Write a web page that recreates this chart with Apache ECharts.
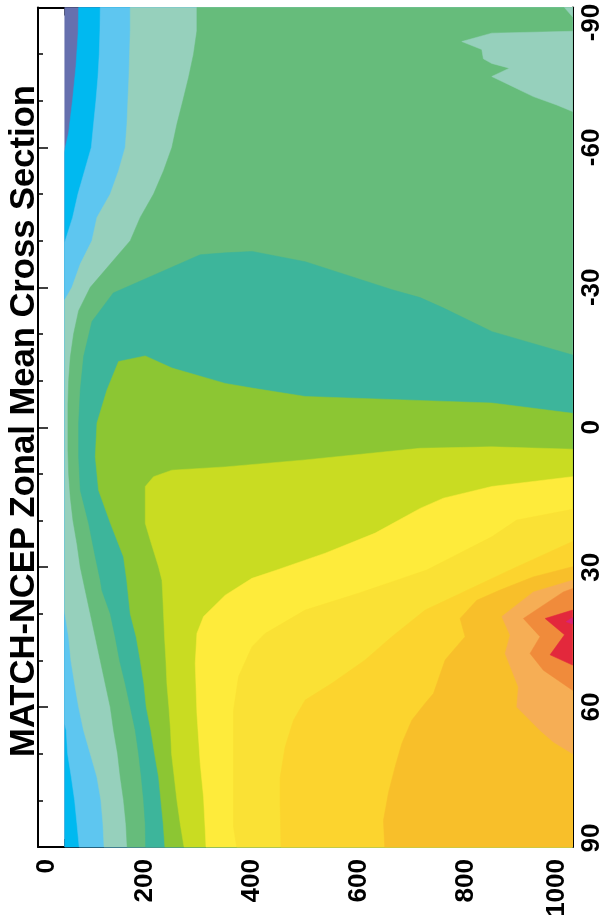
<!DOCTYPE html>
<html>
<head>
<meta charset="utf-8">
<script src="https://cdn.jsdelivr.net/npm/echarts@6/dist/echarts.min.js"></script>
<style>
  html, body { margin: 0; padding: 0; background: #fff; }
  #chart { width: 601px; height: 920px; }
</style>
</head>
<body>
<div id="chart"></div>
<script>
// pressure (hPa) along x, latitude along y; each area = region at or above a contour level
const pressureTicks = [0, 200, 400, 600, 800, 1000];
const latitudeTicks = [-90, -60, -30, 0, 30, 60, 90];

const purpleArea = [[50,-90],[1000,-90],[1000,90],[50,90]];
const blueArea = [[76,-90],[75,-84.5],[71,-77.4],[64.7,-70.2],[57.2,-63.1],[51,-60],[50,-59],[50,90],[1000,90],[1000,-90]];
const lightBlueArea = [[116.5,-90],[115.9,-85],[114.6,-80],[112.1,-75],[108.4,-70],[104,-65],[99.7,-60],[87.2,-55],[74.7,-50],[64.8,-45],[51,-40],[50,-39.5],[50,63.5],[52.9,65],[55.4,70],[62.3,75],[68.5,80],[72.9,85],[77,90],[1000,90],[1000,-90]];
const paleTealArea = [[172.6,-90],[172.6,-85],[171.3,-80],[170.1,-75],[168.2,-70],[166.4,-65],[163.2,-60],[150.8,-55],[135.2,-50],[110.3,-45],[100.9,-40],[79.1,-35],[63.5,-30],[50,-27.3],[50,39.2],[50.4,40],[57.3,45],[61.6,50],[68.5,55],[76,60],[85.3,65],[97.8,70],[110.3,75],[117.7,80],[121.5,85],[123.6,90],[1000,90],[1000,-90]];
const greenArea = [[297.3,-90],[297.3,-85],[291,-80],[281.7,-75],[271,-70],[259.9,-65],[250.5,-60],[234.9,-55],[216.2,-50],[191.3,-45],[172.6,-40],[135.2,-35],[97.8,-30],[76,-25],[66.6,-20],[60.4,-15],[57.3,-10],[56,-5],[56,0],[56,5],[57.3,10],[60.4,15],[65.4,20],[72.9,25],[79.1,30],[88.4,35],[97.8,40],[107.2,45],[116.5,50],[125.8,55],[135.2,60],[141.4,65],[148.9,70],[153.9,75],[160.1,80],[164.5,85],[166.8,90],[1000,90],[1000,-90]];
const paleTealBlob = [[792.9,-82.7],[849,-84.5],[1000,-84.9],[1000,-67.7],[970.5,-69.1],[926.8,-70.9],[880,-73.5],[849,-75.2],[881.9,-77],[849,-78],[833.3,-79],[830.3,-81]];
const paleTealCorner = [[985,-90],[1000,-90],[1000,-88]];
const tealArea = [[1000,-15.5],[849.6,-20.5],[757.9,-25.6],[714.9,-27.8],[662.5,-29.5],[499.9,-35.5],[400.7,-37.7],[350.3,-37.4],[303.5,-37],[140.8,-28.8],[101,-22.7],[85.4,-15.2],[79.1,-8],[76,-0.9],[76,6.3],[79.1,13.5],[94.7,20.6],[107.2,27.8],[116.5,32.8],[119.6,35],[135.2,40],[144.5,45],[152.6,50],[163.2,55],[172.6,60],[182,65],[188.2,70],[193.2,75],[197.5,80],[200.6,85],[201.4,90],[1000,90]];
const yellowGreenArea = [[1000,-3],[849,-5.2],[724.3,-5.7],[499.9,-6.6],[400.2,-8.4],[350.3,-9.4],[250.6,-12.7],[200.7,-15.3],[150.7,-14.1],[129,-8],[110.3,-0.9],[107.2,6.3],[113.3,13.5],[135.2,20.5],[160,27.8],[166,32.8],[172.6,40],[183.8,45],[191.3,50],[198.1,55],[202.5,60],[211.2,65],[218.1,70],[225.6,75],[229.9,80],[234.3,85],[237.3,90],[1000,90]];
const limeArea = [[1000,4.7],[849,4.2],[714.9,4.5],[499.9,7],[350.3,8.5],[250.6,9.2],[216.2,10.6],[200.7,12.7],[200.7,20.6],[210,24.2],[225.5,29.9],[231.9,32.8],[233,35],[234.9,40],[236.8,45],[239.3,50],[241.2,55],[244.9,60],[248,65],[249.9,70],[254.9,75],[259.9,80],[266.1,85],[273.2,90],[1000,90]];
const yellowArea = [[1000,10.6],[849,12.7],[758.5,15.2],[714.9,17.4],[630.8,22.7],[537.3,27],[446.9,30.6],[400.2,32.4],[350.3,36],[309.7,40.6],[297.3,44.2],[294.2,50.6],[297.3,61.3],[303.5,72.1],[309.7,79.3],[312.9,86.4],[314.3,90],[1000,90]];
const lightGoldArea = [[1000,17.6],[895.7,19.9],[849,23.5],[727.4,30.6],[599.5,35.6],[499.9,39.2],[425,44.2],[400.2,47.1],[375.1,53.5],[365.8,60.7],[365.8,71.4],[365.8,85.7],[371.7,90],[1000,90]];
const goldArea = [[1000,24.5],[883.2,30.6],[724.3,39.2],[662,44.9],[612,49.9],[549.8,54.9],[499.9,58.5],[478,62.8],[462.4,68.5],[453.1,75],[453.1,81.4],[454.6,90],[1000,90]];
const deepGoldArea = [[1000,29.9],[926.2,32.1],[864.5,34.9],[820.9,37.1],[789.7,41],[799,44.9],[777.2,47.8],[761.7,49.9],[739.8,57.1],[724.3,59.2],[699.4,62.8],[680.7,67.8],[668.2,72.8],[655.6,78.4],[646.3,84.3],[648.7,90],[1000,90]];
const peachArea = [[1000,32.8],[926.8,35.3],[867.7,40.6],[883.2,44.6],[873.9,48.5],[898.7,55.7],[895.7,60],[939.3,65],[964.2,67.5],[1000,70]];
const orangeArea = [[1000,34.6],[982.9,35.3],[908.1,41],[939.3,44.9],[920.6,48.5],[945.5,52.1],[1000,56.4]];
const redArea = [[1000,39.2],[948.7,41],[985,44.5],[958,48.8],[1000,51]];
const magentaArea = [[1000,40.8],[988,41.7],[1000,42.2]];

// painted in this order, lowest level first
const areas = [
  [purpleArea, '#6670ae'],
  [blueArea, '#00b9f0'],
  [lightBlueArea, '#5ec6f0'],
  [paleTealArea, '#96d0bc'],
  [greenArea, '#66bc7b'],
  [paleTealBlob, '#96d0bc'],
  [paleTealCorner, '#96d0bc'],
  [tealArea, '#3db59b'],
  [yellowGreenArea, '#8cc633'],
  [limeArea, '#c9dc22'],
  [yellowArea, '#feeb3b'],
  [lightGoldArea, '#fae135'],
  [goldArea, '#fcd42e'],
  [deepGoldArea, '#f8bf2a'],
  [peachArea, '#f6ae55'],
  [orangeArea, '#f08b3b'],
  [redArea, '#e3283c'],
  [magentaArea, '#d8237a']
];

const labelFont = { fontFamily: '"Liberation Sans", Arial, sans-serif', fontWeight: 'bold', fontSize: 26, color: '#000' };

const myChart = echarts.init(document.getElementById('chart'), null, { renderer: 'canvas' });

function axisX(pos, showLabel) {
  return {
    type: 'value', position: pos, min: 0, max: 1000, interval: 200,
    axisLine: { show: true, onZero: false, lineStyle: { color: '#000', width: 2 } },
    axisTick: { show: true, inside: true, length: 16, lineStyle: { color: '#000', width: 1.5 } },
    minorTick: { show: true, splitNumber: 4, length: 8, lineStyle: { color: '#000', width: 1.5 } },
    splitLine: { show: false },
    axisLabel: {
      show: showLabel, rotate: 90, margin: 12, ...labelFont,
      formatter: function (v) {
        if (v === 0) return '{lo|0}';
        if (v === 1000) return '{hi|1000}';
        return String(v);
      },
      rich: {
        lo: { ...labelFont, padding: [18, 0, 0, 0] },
        hi: { ...labelFont, padding: [0, 0, 32, 0] }
      }
    }
  };
}

function axisY(pos, showLabel) {
  return {
    type: 'value', position: pos, min: -90, max: 90, interval: 30, inverse: true,
    axisLine: { show: true, onZero: false, lineStyle: { color: '#000', width: 2 } },
    axisTick: { show: true, inside: true, length: 10, lineStyle: { color: '#000', width: 1.5 } },
    minorTick: { show: true, splitNumber: 3, length: 5, lineStyle: { color: '#000', width: 1.5 } },
    splitLine: { show: false },
    axisLabel: {
      show: showLabel, rotate: 90, margin: 6, ...labelFont,
      formatter: function (v) {
        if (v === -90) return '{lo|-90}';
        if (v === 90) return '{hi|90}';
        return String(v);
      },
      rich: {
        lo: { ...labelFont, padding: [0, 30, 0, 0] },
        hi: { ...labelFont, padding: [0, 0, 0, 18] }
      }
    }
  };
}

const option = {
  animation: false,
  grid: { left: 38, right: 28.5, top: 7.5, bottom: 73, containLabel: false, outerBoundsMode: 'none' },
  xAxis: [axisX('bottom', true), axisX('top', false)],
  yAxis: [axisY('right', true), axisY('left', false)],
  graphic: [{
    type: 'text', x: 24, y: 421, rotation: Math.PI / 2,
    style: {
      text: 'MATCH-NCEP Zonal Mean Cross Section',
      font: 'bold 34.6px "Liberation Sans", Arial, sans-serif',
      fill: '#000', align: 'center', verticalAlign: 'middle'
    }
  }],
  series: [{
    type: 'custom',
    coordinateSystem: 'cartesian2d',
    xAxisIndex: 0, yAxisIndex: 0,
    silent: true,
    data: areas.map(function (a, i) { return [a[0][0][0], a[0][0][1], i]; }),
    renderItem: function (params, api) {
      const a = areas[api.value(2)];
      return {
        type: 'polygon',
        shape: { points: a[0].map(function (pt) { return api.coord(pt); }) },
        style: { fill: a[1], stroke: a[1], lineWidth: 0.5 }
      };
    }
  }]
};

option && myChart.setOption(option);
</script>
</body>
</html>
